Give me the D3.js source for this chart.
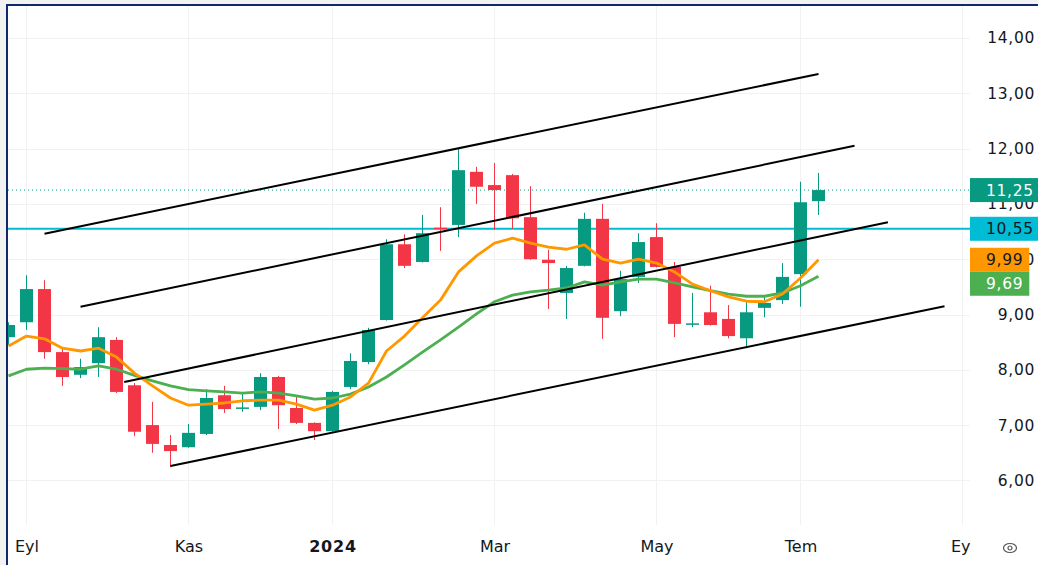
<!DOCTYPE html>
<meta charset="utf-8">
<style>
body { margin: 0; background: #f2f2f2; overflow: hidden; }
text { font-family: "DejaVu Sans", Verdana, sans-serif; }
.grid { stroke: #f2f2f2; stroke-width: 1px; shape-rendering: crispEdges; }
.axis path { stroke-width: 0; }
.axis text { fill: #131722; }
.ma { fill: none; stroke-width: 2.8px; stroke-linejoin: round; }
.trend { stroke: #000; stroke-width: 2px; }
</style>
<body>
<script src="https://d3js.org/d3.v7.min.js"></script>
<script>

// weekly bars
var dates = ["2023-08-28","2023-09-04","2023-09-11","2023-09-18","2023-09-25","2023-10-02","2023-10-09","2023-10-16",
  "2023-10-23","2023-10-30","2023-11-06","2023-11-13","2023-11-20","2023-11-27","2023-12-04","2023-12-11",
  "2023-12-18","2023-12-25","2024-01-01","2024-01-08","2024-01-15","2024-01-22","2024-01-29","2024-02-05",
  "2024-02-12","2024-02-19","2024-02-26","2024-03-04","2024-03-11","2024-03-18","2024-03-25","2024-04-01",
  "2024-04-08","2024-04-15","2024-04-22","2024-04-29","2024-05-06","2024-05-13","2024-05-20","2024-05-27",
  "2024-06-03","2024-06-10","2024-06-17","2024-06-24","2024-07-01","2024-07-08"];
var open  = [8.59,8.86,9.46,8.32,7.91,8.12,8.54,7.72,7.00,6.64,6.60,6.84,7.54,7.30,7.33,7.87,
  7.31,7.04,6.89,7.69,8.14,8.90,10.27,9.95,10.57,10.62,11.58,11.34,11.52,10.76,9.99,9.39,
  9.88,10.73,9.06,9.68,10.40,9.86,8.82,9.04,8.92,8.57,9.12,9.26,9.73,11.05];
var high  = [8.86,9.71,9.62,8.41,8.20,8.77,8.59,7.76,7.42,6.82,7.02,7.65,7.71,7.58,7.94,7.89,
  7.53,7.05,7.62,8.30,8.76,10.36,10.45,10.80,10.94,12.01,11.67,11.74,11.54,11.32,10.17,9.88,
  10.84,11.00,9.79,10.47,10.65,9.95,9.39,9.52,9.17,9.23,9.32,9.93,11.40,11.56];
var low   = [8.45,8.72,8.20,7.71,7.85,7.87,7.58,6.80,6.50,6.24,6.59,6.82,7.22,7.24,7.27,6.93,
  7.02,6.73,6.88,7.65,8.10,8.89,9.84,9.94,10.15,10.40,11.00,10.53,10.55,9.99,9.10,8.92,
  9.87,8.56,8.97,9.57,9.85,8.59,8.77,8.80,8.57,8.39,8.95,9.19,9.14,10.80];
var close = [8.81,9.46,8.32,7.87,8.05,8.59,7.60,6.88,6.66,6.53,6.86,7.49,7.29,7.32,7.87,7.36,
  7.04,6.89,7.60,8.16,8.72,10.27,9.88,10.47,10.55,11.61,11.31,11.25,10.74,10.00,9.93,9.84,
  10.73,8.94,9.64,10.31,9.86,8.83,8.84,8.81,8.61,9.04,9.21,9.68,11.03,11.25];

// moving averages
var maFast = [8.43,8.61,8.56,8.39,8.34,8.39,8.23,7.94,7.71,7.49,7.36,7.38,7.40,7.44,7.45,7.45,
  7.38,7.27,7.36,7.51,7.76,8.34,8.61,8.94,9.26,9.77,10.06,10.29,10.38,10.29,10.22,10.18,
  10.26,10.00,9.93,10.00,9.93,9.77,9.55,9.43,9.32,9.24,9.23,9.37,9.66,9.99];
var maSlow = [7.89,8.01,8.03,8.02,8.01,8.07,8.01,7.90,7.80,7.71,7.64,7.62,7.60,7.58,7.60,7.58,
  7.53,7.47,7.49,7.56,7.69,7.87,8.09,8.32,8.54,8.77,9.01,9.23,9.35,9.41,9.44,9.48,
  9.59,9.53,9.59,9.64,9.64,9.57,9.50,9.43,9.37,9.33,9.33,9.39,9.52,9.69];

// channel lines (start / end points)
var chanStart = ["2023-09-11","2023-09-25","2023-10-12","2023-10-30"];
var chanStartPrice = [10.46, 9.14, 7.78, 6.26];
var chanEnd = ["2024-07-08","2024-07-22","2024-08-04","2024-08-26"];
var chanEndPrice = [13.35, 12.05, 10.67, 9.15];

var priceTicks = [6, 7, 8, 9, 10, 11, 12, 13, 14];
var monthTicks = ["2023-09-04","2023-11-06","2024-01-01","2024-03-04","2024-05-06","2024-07-01","2024-09-02"];
var monthLabels = ["Eyl","Kas","2024","Mar","May","Tem","Eyl"];

var lastPrice = 11.25, levelPrice = 10.55;
var tagValues = [lastPrice, levelPrice, maFast[maFast.length-1], maSlow[maSlow.length-1]];
var tagFill = ["#089981", "#00bcd4", "#ff9800", "#4caf50"];
var tagText = ["#ffffff", "#131722", "#131722", "#ffffff"];

var W = 1038, H = 565;
var plot = {left: 8, top: 6, right: 970, bottom: 525};

var parse = d3.utcParse("%Y-%m-%d");
var x = d3.scaleUtc()
    .domain([parse("2023-08-28"), parse("2024-07-01")])
    .range([8.5, 800.5]);
var y = d3.scaleLinear().domain([6, 14]).range([480.4, 38]);

var fmt = d3.formatLocale({decimal: ",", thousands: ".", grouping: [3], currency: ["", ""]}).format(".2f");

var svg = d3.select("body").append("svg")
    .attr("width", W)
    .attr("height", H);

svg.append("rect")
    .attr("x", 7).attr("y", 5)
    .attr("width", W - 7).attr("height", H - 5)
    .attr("fill", "#fff");

var defs = svg.append("defs");
defs.append("clipPath").attr("id", "clip")
  .append("rect")
    .attr("x", plot.left).attr("y", plot.top)
    .attr("width", plot.right - plot.left).attr("height", plot.bottom - plot.top);
// local coords of the time axis group
defs.append("clipPath").attr("id", "clipx")
  .append("rect").attr("x", 0).attr("y", -5).attr("width", 971).attr("height", 30);

// grid
var grid = svg.append("g").attr("clip-path", "url(#clip)");
grid.selectAll(".hg").data(priceTicks).enter().append("line")
    .attr("class", "grid")
    .attr("x1", plot.left).attr("x2", plot.right)
    .attr("y1", function(d) { return Math.round(y(d)) + 0.5; })
    .attr("y2", function(d) { return Math.round(y(d)) + 0.5; });
grid.selectAll(".vg").data(monthTicks).enter().append("line")
    .attr("class", "grid")
    .attr("x1", function(d) { return x(parse(d)); })
    .attr("x2", function(d) { return x(parse(d)); })
    .attr("y1", plot.top).attr("y2", plot.bottom);

var g = svg.append("g").attr("clip-path", "url(#clip)");

// horizontal level + last price line
g.append("line")
    .attr("x1", plot.left).attr("x2", plot.right)
    .attr("y1", y(lastPrice)).attr("y2", y(lastPrice))
    .attr("stroke", "#089981").attr("stroke-width", 1)
    .attr("stroke-dasharray", "1,3");
g.append("line")
    .attr("x1", plot.left).attr("x2", plot.right)
    .attr("y1", y(levelPrice)).attr("y2", y(levelPrice))
    .attr("stroke", "#00bcd4").attr("stroke-width", 2);

// candles
var bars = dates.map(function(d, i) {
  return {date: parse(d), o: open[i], h: high[i], l: low[i], c: close[i]};
});
var up = "#089981", down = "#f23645", bw = 13;

g.selectAll(".wick").data(bars).enter().append("line")
    .attr("class", "wick")
    .attr("x1", function(d) { return x(d.date); })
    .attr("x2", function(d) { return x(d.date); })
    .attr("y1", function(d) { return y(d.h); })
    .attr("y2", function(d) { return y(d.l); })
    .attr("stroke", function(d) { return d.c >= d.o ? up : down; })
    .attr("stroke-width", 1);

g.selectAll(".body").data(bars).enter().append("rect")
    .attr("class", "body")
    .attr("x", function(d) { return x(d.date) - bw / 2; })
    .attr("width", bw)
    .attr("y", function(d) { return y(Math.max(d.o, d.c)); })
    .attr("height", function(d) { return Math.max(1.5, Math.abs(y(d.o) - y(d.c))); })
    .attr("fill", function(d) { return d.c >= d.o ? up : down; });

// moving averages
var line = function(arr) {
  return d3.line()
    .x(function(d, i) { return x(parse(dates[i])); })
    .y(function(d) { return y(d); })(arr);
};
g.append("path").attr("class", "ma").attr("stroke", "#4caf50").attr("d", line(maSlow));
g.append("path").attr("class", "ma").attr("stroke", "#ff9800").attr("d", line(maFast));

// channel
g.selectAll(".trend").data(chanStart).enter().append("line")
    .attr("class", "trend")
    .attr("x1", function(d) { return x(parse(d)); })
    .attr("y1", function(d, i) { return y(chanStartPrice[i]); })
    .attr("x2", function(d, i) { return x(parse(chanEnd[i])); })
    .attr("y2", function(d, i) { return y(chanEndPrice[i]); });

// price axis
svg.append("g")
    .attr("class", "axis")
    .attr("transform", "translate(1035,0)")
    .call(d3.axisLeft(y).tickValues(priceTicks).tickSize(0).tickPadding(0).tickFormat(fmt))
    .selectAll("text")
    .style("font-size", "15.5px")
    .attr("letter-spacing", "0.7px");

// time axis
svg.append("g")
    .attr("clip-path", "url(#clipx)")
    .attr("transform", "translate(0,540)")
  .append("g")
    .attr("class", "axis")
    .call(d3.axisBottom(x).tickValues(monthTicks.map(parse)).tickSize(0).tickPadding(0)
      .tickFormat(function(d, i) { return monthLabels[i]; }))
    .selectAll("text")
    .style("font-size", "16px")
    .style("font-weight", function(d, i) { return monthLabels[i] == "2024" ? "bold" : "normal"; })
    .attr("letter-spacing", function(d, i) { return monthLabels[i] == "2024" ? "0.8px" : "0px"; })
    .attr("dy", "0.75em");

// price tags on the axis
var tags = tagValues.map(function(v, i) { return {v: v, fill: tagFill[i], color: tagText[i], y: y(v)}; });
var th = 24, prevBottom = -1e9;
tags.forEach(function(t) {
  var top = t.y - th / 2;
  if (top < prevBottom) top = prevBottom;
  t.top = top;
  prevBottom = top + th;
});
var tg = svg.append("g").selectAll("g").data(tags).enter().append("g");
tg.append("rect")
    .attr("x", 970)
    .attr("y", function(d) { return d.top; })
    .attr("height", th)
    .attr("fill", function(d) { return d.fill; });
tg.append("text")
    .attr("x", 986)
    .attr("y", function(d) { return d.top + th / 2; })
    .attr("dy", "0.36em")
    .style("font-size", "15.5px")
    .attr("letter-spacing", "0.7px")
    .attr("fill", function(d) { return d.color; })
    .text(function(d) { return fmt(d.v); });
tg.each(function() {
  var w = d3.select(this).select("text").node().getComputedTextLength();
  d3.select(this).select("rect").attr("width", w + 22);
});

// eye icon
var eye = svg.append("g").attr("transform", "translate(1010,548)")
    .attr("fill", "none").attr("stroke", "#555").attr("stroke-width", 1.2);
eye.append("ellipse").attr("rx", 6.5).attr("ry", 4.5);
eye.append("circle").attr("r", 2);

// frame
svg.append("path")
    .attr("d", "M7," + H + "V5H" + W)
    .attr("fill", "none")
    .attr("stroke", "#10296b")
    .attr("stroke-width", 2);

</script>
</body>
